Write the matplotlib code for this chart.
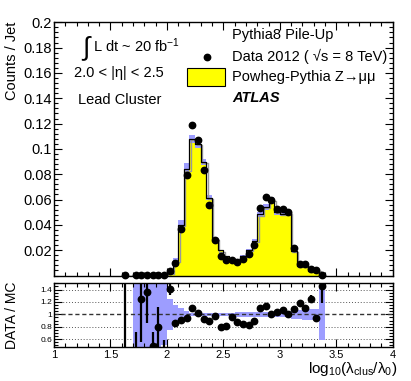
import numpy as np
import matplotlib.pyplot as plt
import matplotlib.transforms as mtransforms
from matplotlib.patches import Rectangle
from matplotlib.ticker import MultipleLocator, FixedLocator, NullFormatter

plt.rcParams['font.family'] = ['Liberation Sans', 'DejaVu Sans']
plt.rcParams['mathtext.fontset'] = 'custom'
plt.rcParams['mathtext.rm'] = 'Liberation Sans'
plt.rcParams['mathtext.it'] = 'Liberation Sans:italic'
plt.rcParams['mathtext.bf'] = 'Liberation Sans:bold'

# binning: 36 bins of 0.05 from 1.6 to 3.4
bin_lo = 1.6
bin_w = 0.05
n_bins = 36

# Counts / Jet for data (nan = no entry)
data_counts = [0.0002, np.nan, 0.0002, 0.0002, 0.0002, 0.0002, 0.0002, 0.0002,
               0.0033, 0.0101, 0.0365, 0.079, 0.1186, 0.107, 0.083, 0.0554,
               0.028, 0.0157, 0.0125, 0.012, 0.0107, 0.013, 0.017, 0.0243,
               0.0536, 0.0618, 0.060, 0.0523, 0.0523, 0.050, 0.0215, 0.0088,
               0.009, 0.0049, 0.0041, 0.0006]

# Powheg-Pythia Z->mumu prediction
mc_counts = [0.0002, 0.0, 0.0003, 0.0003, 0.0003, 0.0003, 0.0003, 0.0003,
             0.0023, 0.0117, 0.0401, 0.084, 0.1078, 0.104, 0.0897, 0.0616,
             0.0289, 0.0199, 0.0152, 0.0126, 0.0123, 0.0154, 0.0204, 0.0273,
             0.0483, 0.0542, 0.0597, 0.0503, 0.0489, 0.050, 0.0197, 0.0075,
             0.0081, 0.0039, 0.0044, 0.0004]

# relative MC uncertainty (band)
mc_rel_unc = [1.0, 0.0, 1.0, 1.0, 1.0, 1.0, 1.0, 0.5,
              0.25, 0.15, 0.10, 0.06, 0.03, 0.03, 0.03, 0.03,
              0.03, 0.03, 0.03, 0.03, 0.045, 0.045, 0.045, 0.045,
              0.045, 0.045, 0.045, 0.045, 0.04, 0.04, 0.07, 0.07,
              0.09, 0.09, 0.09, 0.42]

# DATA / MC ratio and its error
ratio = [2.0, np.nan, 0.3, 1.24, 1.36, 0.49, 0.79, 0.3,
         1.405, 0.86, 0.91, 0.94, 1.10, 1.03, 0.925, 0.90,
         0.97, 0.79, 0.82, 0.95, 0.87, 0.845, 0.835, 0.89,
         1.11, 1.14, 1.005, 1.04, 1.07, 1.0, 1.09, 1.18,
         1.11, 1.245, 0.935, 1.46]
ratio_err = [1.7, np.nan, 0.42, 0.68, 0.5, 0.22, 0.33, 0.29,
             0.09, 0.03, 0.02, 0.015, 0.015, 0.015, 0.015, 0.02,
             0.025, 0.03, 0.03, 0.03, 0.03, 0.03, 0.03, 0.03,
             0.02, 0.02, 0.02, 0.02, 0.02, 0.02, 0.03, 0.04,
             0.04, 0.06, 0.05, 0.28]

edges = bin_lo + bin_w * np.arange(n_bins + 1)
centers = 0.5 * (edges[:-1] + edges[1:])
data = np.array(data_counts)
mc = np.array(mc_counts)
unc = np.array(mc_rel_unc)
rat = np.array(ratio)
rerr = np.array(ratio_err)

W, H = 411, 381
fig = plt.figure(figsize=(W / 100, H / 100), dpi=100)

def box(x0, y0, x1, y1):
    return [x0 / W, 1 - y1 / H, (x1 - x0) / W, (y1 - y0) / H]

ax = fig.add_axes(box(54, 22.3, 392.7, 275.5))
rax = fig.add_axes(box(54, 283.3, 392.7, 347.3))

band_col = '#9d9dff'

# --- main panel ---
mc_step = np.append(mc, mc[-1])
ax.fill_between(edges, 0, mc_step, step='post', color='#ffff00', lw=0, zorder=1)
lo = np.append(mc * (1 - unc), 0)
hi = np.append(mc * (1 + unc), 0)
ax.fill_between(edges, lo, hi, step='post', color=band_col, lw=0, zorder=2)
ax.fill_between(edges, 0, lo, step='post', color='#ffff00', lw=0, zorder=2)
outline_x = np.concatenate([[edges[0]], edges])
outline_y = np.concatenate([[0], mc, [0]])
shadow = mtransforms.offset_copy(ax.transData, fig=fig, x=1.0, y=-1.0, units='points')
ax.step(outline_x, outline_y, where='post', color='#9a9a9a',
        lw=1.0, transform=shadow, zorder=2.5)
ax.step(outline_x, outline_y, where='post', color='black', lw=0.9, zorder=3)
ax.plot(centers, data, 'o', color='black', ms=4.6, zorder=4, clip_on=False)

ax.set_xlim(1, 4)
ax.set_ylim(0, 0.2)
ax.yaxis.set_major_locator(FixedLocator(np.arange(0.02, 0.201, 0.02)))
ax.yaxis.set_minor_locator(MultipleLocator(0.004))
ax.set_yticklabels(['0.02', '0.04', '0.06', '0.08', '0.1', '0.12', '0.14',
                    '0.16', '0.18', '0.2'])
ax.xaxis.set_major_locator(MultipleLocator(0.5))
ax.xaxis.set_minor_locator(MultipleLocator(0.1))
ax.xaxis.set_major_formatter(NullFormatter())
ax.tick_params(which='both', direction='in', top=True, right=True, width=0.8)
ax.tick_params(which='major', length=6)
ax.tick_params(which='minor', length=3)
ax.tick_params(axis='y', labelsize=10.5, pad=1.5)

# --- ratio panel ---
rlo = np.append(1 - unc, 1)
rhi = np.append(1 + unc, 1)
valid = np.append(mc > 0, True)
rax.fill_between(edges, rlo, rhi, step='post', color=band_col, lw=0,
                 where=valid, zorder=1)
for g in [0.6, 0.8, 1.2, 1.4]:
    rax.axhline(g, color='#555555', ls=(0, (1, 2)), lw=0.7, zorder=0.5)
rax.axhline(1.0, color='#333333', ls=(0, (3, 2)), lw=1.0, zorder=2)
rax.errorbar(centers, rat, yerr=rerr, fmt='o', color='black', ms=4.6,
             elinewidth=1.6, capsize=0, zorder=3)
rax.set_xlim(1, 4)
rax.set_ylim(0.47, 1.5)
rax.yaxis.set_major_locator(FixedLocator([0.6, 0.8, 1.0, 1.2, 1.4]))
rax.set_yticklabels(['0.6', '0.8', '1', '1.2', '1.4'])
rax.yaxis.set_minor_locator(MultipleLocator(0.05))
rax.set_xticks([1, 1.5, 2, 2.5, 3, 3.5, 4])
rax.set_xticklabels(['1', '1.5', '2', '2.5', '3', '3.5', '4'])
rax.xaxis.set_minor_locator(MultipleLocator(0.1))
rax.tick_params(which='both', direction='in', top=True, right=True, width=0.8)
rax.tick_params(which='major', length=6)
rax.tick_params(which='minor', length=3)
rax.tick_params(axis='y', labelsize=6, pad=1.5)
rax.tick_params(axis='x', labelsize=8, pad=2)

for a in (ax, rax):
    for s in a.spines.values():
        s.set_linewidth(1.0)

# --- labels ---
def ft(x, y, s, **kw):
    fig.text(x / W, 1 - y / H, s, **kw)

ft(12, 22, 'Counts / Jet', rotation=90, ha='center', va='top', fontsize=10.5)
ft(12, 315, 'DATA / MC', rotation=90, ha='center', va='center', fontsize=10)
ft(397, 378, 'log$_{\\mathregular{10}}$(λ$_{\\mathregular{clus}}$/λ$_{\\mathregular{0}}$)',
   ha='right', va='bottom', fontsize=11)

ft(86, 48, '∫', ha='center', va='center', fontsize=19)
ft(93, 46, 'L dt ~ 20 fb$^{\\mathregular{-1}}$', ha='left', va='center', fontsize=10.5)
ft(74, 73, '2.0 < |η| < 2.5', ha='left', va='center', fontsize=10.5)
ft(78, 100, 'Lead Cluster', ha='left', va='center', fontsize=10.5)

ft(232, 35, 'Pythia8 Pile-Up', ha='left', va='center', fontsize=10.5)
ft(232, 56, 'Data 2012 ( √s = 8 TeV)', ha='left', va='center', fontsize=10.5)
ft(232, 77, 'Powheg-Pythia Z→μμ', ha='left', va='center', fontsize=10.5)
ft(232, 98, 'ATLAS', ha='left', va='center', fontsize=10.5,
   fontweight='bold', fontstyle='italic')
fig.add_artist(plt.Line2D([207 / W], [1 - 57 / H], marker='o', color='black',
                          ms=4.6, transform=fig.transFigure))
fig.add_artist(Rectangle((187 / W, 1 - 86 / H), 38 / W, 18 / H,
                         facecolor='#ffff00', edgecolor='black', lw=0.8,
                         transform=fig.transFigure))

fig.savefig('out.png', dpi=100)
